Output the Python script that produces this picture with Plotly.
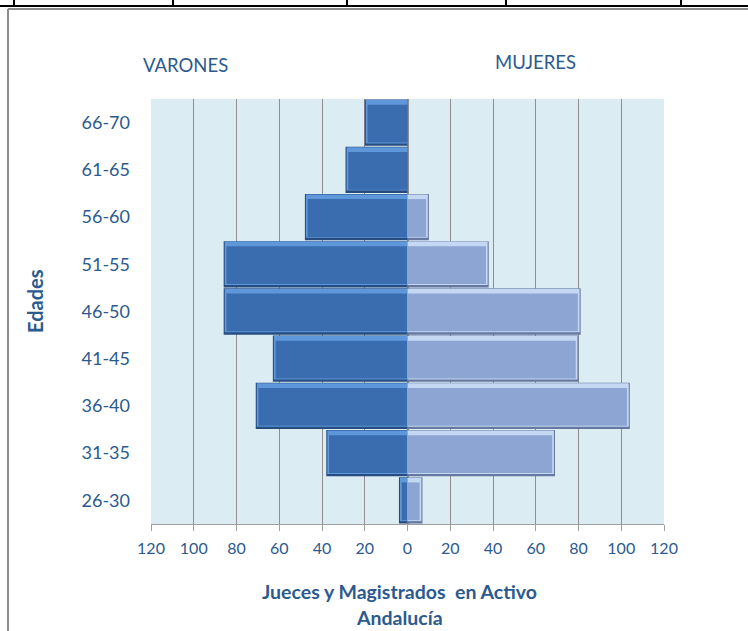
import plotly.graph_objects as go

# ---- data ----
edades = ["26-30", "31-35", "36-40", "41-45", "46-50", "51-55", "56-60", "61-65", "66-70"]
varones = [4, 38, 71, 63, 86, 86, 48, 29, 20]
mujeres = [7, 69, 104, 80, 81, 38, 10, 0, 0]
tick_vals = [-120, -100, -80, -60, -40, -20, 0, 20, 40, 60, 80, 100, 120]
tick_text = [str(abs(v)) for v in tick_vals]

W, H = 748, 631
L, R, T, B = 151, 664, 99, 524


def fx(px):
    return (px - L) / (R - L)


def fy(py):
    return (B - py) / (B - T)


TXT = "#2B5A8E"
FONT = "Lato"

fig = go.Figure()


def bevel_bars(vals, sign, dark, light, face):
    # outer (dark edge)
    fig.add_trace(go.Bar(
        y=edades, x=[sign * v for v in vals], orientation="h",
        width=0.98, offset=-0.49,
        marker=dict(color=dark, line=dict(width=0)), hoverinfo="skip",
    ))
    # highlight
    fig.add_trace(go.Bar(
        y=edades, x=[sign * max(v - 0.5, 0) for v in vals], orientation="h",
        width=0.92, offset=-0.44,
        marker=dict(color=light, line=dict(width=0)), hoverinfo="skip",
    ))
    # face
    fig.add_trace(go.Bar(
        y=edades, x=[sign * max(v - 1.3, 0) for v in vals], orientation="h",
        width=0.80, offset=-0.42,
        marker=dict(color=face, line=dict(width=0)), hoverinfo="skip",
    ))


bevel_bars(varones, -1, "#274D80", "#5E97DA", "#3A6DAF")
bevel_bars(mujeres, 1, "#66789F", "#C4D8F3", "#8CA5D2")

shapes = []
# outer frame / table borders
shapes.append(dict(type="line", xref="paper", yref="paper", x0=fx(0), x1=fx(W), y0=fy(6), y1=fy(6),
                   line=dict(color="black", width=2)))
for xv in [14, 173, 347, 506, 681]:
    shapes.append(dict(type="line", xref="paper", yref="paper", x0=fx(xv), x1=fx(xv), y0=fy(0), y1=fy(6),
                       line=dict(color="black", width=2)))
shapes.append(dict(type="line", xref="paper", yref="paper", x0=fx(8), x1=fx(W), y0=fy(9), y1=fy(9),
                   line=dict(color="#8C8C8C", width=2)))
shapes.append(dict(type="line", xref="paper", yref="paper", x0=fx(8), x1=fx(8), y0=fy(9), y1=fy(H),
                   line=dict(color="#8C8C8C", width=2)))


def ann(text, px, py, size, angle=0):
    return dict(text=text, x=fx(px), y=fy(py), xref="paper", yref="paper", showarrow=False,
                xanchor="center", yanchor="middle", textangle=angle,
                font=dict(family=FONT, size=size, color=TXT))


annotations = [
    ann("VARONES", 185, 65, 18.5),
    ann("MUJERES", 535, 62, 18.5),
    ann("<b>Jueces y Magistrados  en Activo</b>", 399, 591, 19.5),
    ann("<b>Andalucía</b>", 399, 617, 19.5),
    ann("<b>Edades</b>", 35, 301, 20, -90),
]

fig.update_layout(
    width=W, height=H,
    margin=dict(l=L, r=W - R, t=T, b=H - B, pad=0),
    paper_bgcolor="white", plot_bgcolor="#DBEDF3",
    barmode="overlay",
    showlegend=False,
    shapes=shapes, annotations=annotations,
    font=dict(family=FONT, color=TXT),
)
fig.update_xaxes(
    range=[-120, 120], tickvals=tick_vals, ticktext=tick_text,
    showgrid=True, gridcolor="#8E8E8E", gridwidth=1,
    zeroline=True, zerolinecolor="#8E8E8E", zerolinewidth=1.5,
    showline=True, linecolor="#A0A0A0", linewidth=1,
    ticks="outside", ticklen=6, tickcolor="#A0A0A0",
    ticklabelstandoff=4,
    tickfont=dict(family=FONT, size=16, color=TXT),
    fixedrange=True,
)
fig.update_yaxes(
    categoryorder="array", categoryarray=edades,
    showgrid=False, zeroline=False, ticks="", showline=False,
    ticklabelstandoff=20,
    tickfont=dict(family=FONT, size=18, color=TXT),
    fixedrange=True,
)

fig.write_html("out.html", config={"displayModeBar": False},
               post_script="document.body.style.margin='0px';")
